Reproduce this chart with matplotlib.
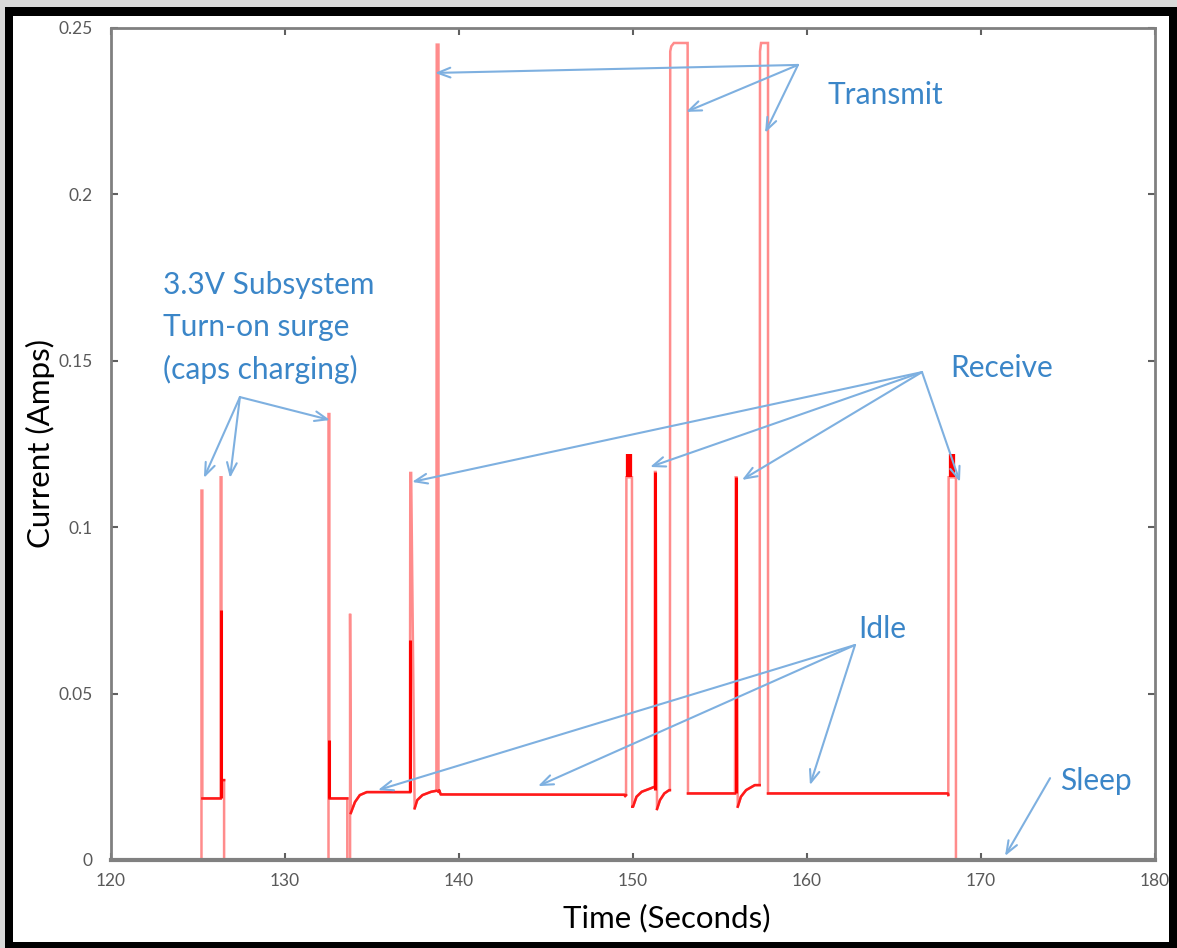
import numpy as np
import matplotlib.pyplot as plt
from matplotlib.patches import Rectangle

# current trace (seconds, amps)
time_s = [120.0, 125.2, 125.2, 125.25, 125.25, 126.3, 126.3, 126.35, 126.35, 126.5, 126.5,
          132.5, 132.5, 132.55, 132.55, 133.55, 133.58, 133.58, 133.74, 133.74, 133.78,
          134.02, 134.3, 134.7, 135.3, 137.18, 137.2, 137.25, 137.45, 137.6, 137.9,
          138.4, 138.7, 138.72, 138.82, 138.82, 138.86, 138.95, 149.5, 149.55, 149.6,
          149.62, 149.94, 149.96, 150.0, 150.2, 150.5, 151.0, 151.24, 151.26, 151.3,
          151.38, 151.55, 151.8, 152.08, 152.12, 152.14, 152.2, 152.35, 153.1, 153.14,
          153.16, 155.86, 155.9, 155.95, 156.02, 156.2, 156.5, 157.0, 157.24, 157.28,
          157.3, 157.36, 157.45, 157.72, 157.76, 157.76, 168.1, 168.12, 168.14, 168.54,
          168.56, 168.56, 180.0]
current_a = [0.0, 0.0, 0.111, 0.111, 0.0185, 0.0185, 0.115, 0.115, 0.024, 0.024, 0.0,
             0.0, 0.134, 0.134, 0.0185, 0.0185, 0.0185, 0.0, 0.0, 0.074, 0.0141,
             0.0174, 0.0195, 0.0204, 0.0204, 0.0204, 0.1163, 0.1163, 0.0155, 0.018, 0.0195,
             0.0205, 0.0208, 0.245, 0.245, 0.0205, 0.021, 0.0197, 0.0196, 0.0192, 0.0195,
             0.115, 0.115, 0.016, 0.016, 0.019, 0.0205, 0.0215, 0.022, 0.1166, 0.1166,
             0.0153, 0.018, 0.020, 0.021, 0.021, 0.243, 0.2445, 0.2455, 0.2455, 0.2455,
             0.020, 0.020, 0.115, 0.115, 0.016, 0.019, 0.021, 0.0225, 0.0225, 0.0225,
             0.243, 0.2455, 0.2455, 0.2455, 0.2455, 0.020, 0.020, 0.0195, 0.115, 0.115,
             0.115, 0.0, 0.0]

# dense (overdrawn) parts of the trace: time, low, high
dense_t = [126.3, 132.52, 137.2, 149.78, 151.27, 155.9, 168.33]
dense_lo = [0.0185, 0.0185, 0.0204, 0.115, 0.021, 0.020, 0.115]
dense_hi = [0.075, 0.036, 0.066, 0.122, 0.1166, 0.115, 0.122]

x_ticks = [120, 130, 140, 150, 160, 170, 180]
y_ticks = [0, 0.05, 0.1, 0.15, 0.2, 0.25]
y_tick_labels = ['0', '0.05', '0.1', '0.15', '0.2', '0.25']

# annotations: label, text position, arrow hub, arrow tips
notes = [
    ('Transmit', (161.15, 0.2299), (159.48, 0.2389),
     [(138.62, 0.2365), (153.05, 0.2248), (157.59, 0.2185)]),
    ('3.3V Subsystem\nTurn-on surge\n(caps charging)', (122.99, 0.160), (127.41, 0.1391),
     [(125.34, 0.1148), (126.84, 0.1148), (132.59, 0.1322)]),
    ('Receive', (168.22, 0.1478), (166.61, 0.1466),
     [(137.3, 0.1136), (150.98, 0.1181), (156.26, 0.1142), (168.79, 0.1136)]),
    ('Idle', (162.93, 0.0694), (162.76, 0.0646),
     [(135.34, 0.0210), (144.54, 0.0222), (160.17, 0.0225)]),
    ('Sleep', (174.54, 0.0237), (173.97, 0.0246),
     [(171.38, 0.0012)]),
]

plt.rcParams['font.family'] = ['Lato', 'DejaVu Sans']

fig = plt.figure(figsize=(11.77, 9.48), dpi=100)
fig.patch.set_facecolor('#d9d9d9')
fig.add_artist(Rectangle((5 / 1177, 0), 1172 / 1177, 941 / 948, transform=fig.transFigure,
                         facecolor='black', edgecolor='none', zorder=-10))
fig.add_artist(Rectangle((13 / 1177, 6 / 948), 1156 / 1177, 926 / 948, transform=fig.transFigure,
                         facecolor='white', edgecolor='none', zorder=-9))

ax = fig.add_axes([111 / 1177, 88 / 948, 1044 / 1177, 832 / 948])
ax.set_facecolor('none')

t = np.array(time_s)
i = np.array(current_a)
ax.plot(t, i, color='#ff5c5c', lw=1.8, alpha=0.7, solid_joinstyle='miter')
low = np.where((i > 0.005) & (i < 0.03), i, np.nan)
ax.plot(t, low, color='#ff1a1a', lw=1.8)
ax.vlines(dense_t[:3] + dense_t[4:6], dense_lo[:3] + dense_lo[4:6], dense_hi[:3] + dense_hi[4:6],
          color='#ff0000', lw=2.2)
ax.vlines([dense_t[3], dense_t[6]], [dense_lo[3], dense_lo[6]], [dense_hi[3], dense_hi[6]],
          color='#ff0000', lw=4.5)

blue_text = '#3b86c8'
blue_arrow = '#7eb0e0'
for label, txt_pos, hub, tips in notes:
    ax.text(txt_pos[0], txt_pos[1], label, color=blue_text, fontsize=21.5,
            ha='left', va='center', linespacing=1.58)
    for tip in tips:
        ax.annotate('', xy=tip, xytext=hub,
                    arrowprops=dict(arrowstyle='->,head_length=0.9,head_width=0.35',
                                    color=blue_arrow, lw=1.5, shrinkA=0, shrinkB=0))

ax.set_xlim(120, 180)
ax.set_ylim(0, 0.25)
ax.set_xticks(x_ticks)
ax.set_yticks(y_ticks)
ax.set_yticklabels(y_tick_labels)
for s in ax.spines.values():
    s.set_color('#808080')
    s.set_linewidth(2.0)
    s.set_zorder(5)
ax.spines['bottom'].set_linewidth(3.0)
ax.tick_params(direction='in', length=5, width=1.5, color='#606060',
               labelcolor='#595959', labelsize=12.5, top=True, right=True)
ax.tick_params(axis='y', pad=13)
ax.tick_params(axis='x', pad=9)

ax.set_xlabel('Time (Seconds)', fontsize=22.5, color='black')
ax.set_ylabel('Current (Amps)', fontsize=22.5, color='black')
ax.xaxis.set_label_coords(0.5326, -0.0697)
ax.xaxis.label.set_va('center')
ax.yaxis.set_label_coords(-0.068, 0.5)
ax.yaxis.label.set_va('center')

fig.savefig('out.png', dpi=100, facecolor=fig.get_facecolor())
